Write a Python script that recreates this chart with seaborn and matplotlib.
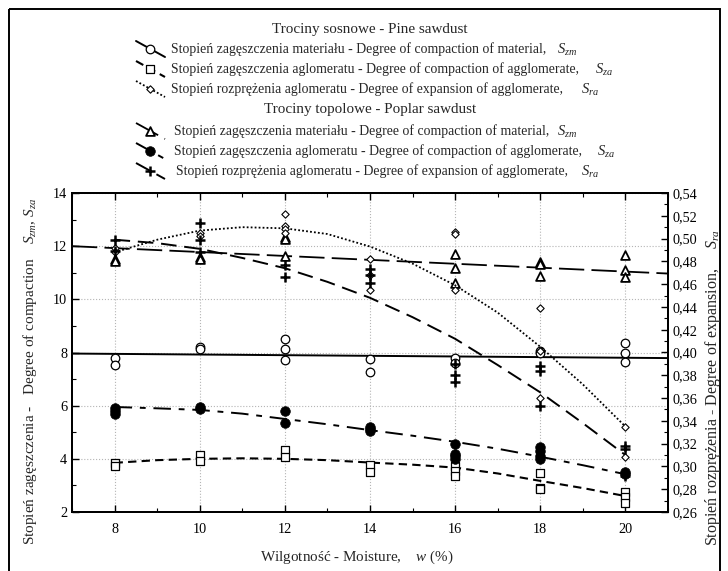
import numpy as np
import pandas as pd
import matplotlib
matplotlib.use('Agg')
import matplotlib.pyplot as plt
import seaborn as sns
from matplotlib.ticker import MultipleLocator, FuncFormatter
from matplotlib.lines import Line2D
from matplotlib.patches import Rectangle

# ---------------- data ----------------
# Pine sawdust - degree of compaction of material (left axis), open circles
pine_szm_x = [8, 8, 10, 10, 12, 12, 12, 14, 14, 16, 16, 18, 18, 20, 20, 20]
pine_szm_y = [7.78, 7.53, 8.19, 8.13, 8.50, 8.15, 7.72, 7.75, 7.27, 7.78, 7.60, 8.04, 7.98, 8.34, 7.97, 7.65]
# Pine sawdust - degree of compaction of agglomerate (left axis), open squares
pine_sza_x = [8, 8, 10, 10, 12, 12, 14, 14, 16, 16, 16, 18, 18, 18, 20, 20, 20]
pine_sza_y = [3.85, 3.72, 4.15, 3.90, 4.33, 4.08, 3.78, 3.52, 3.72, 3.55, 3.35, 3.48, 2.92, 2.85, 2.77, 2.55, 2.35]
# Pine sawdust - degree of expansion of agglomerate (right axis), small diamonds
pine_sra_x = [8, 8, 10, 10, 12, 12, 12, 12, 14, 14, 14, 16, 16, 16, 18, 18, 18, 20, 20]
pine_sra_y = [0.492, 0.488, 0.505, 0.502, 0.522, 0.511, 0.508, 0.505, 0.482, 0.468, 0.455,
              0.506, 0.504, 0.455, 0.439, 0.401, 0.360, 0.335, 0.308]
# Poplar sawdust - degree of compaction of material (left axis), triangles
pop_szm_x = [8, 8, 10, 10, 12, 12, 12, 16, 16, 16, 18, 18, 18, 20, 20, 20]
pop_szm_y = [11.50, 11.45, 11.58, 11.50, 12.33, 12.27, 11.64, 11.70, 11.16, 10.60,
             11.41, 11.32, 10.88, 11.66, 11.12, 10.83]
# Poplar sawdust - degree of compaction of agglomerate (left axis), filled circles
pop_sza_x = [8, 8, 8, 10, 10, 12, 12, 14, 14, 14, 16, 16, 16, 16, 18, 18, 18, 18, 20, 20]
pop_sza_y = [5.90, 5.80, 5.68, 5.95, 5.88, 5.81, 5.36, 5.20, 5.12, 5.05,
             4.55, 4.20, 4.10, 4.00, 4.45, 4.28, 4.12, 3.98, 3.50, 3.42]
# Poplar sawdust - degree of expansion of agglomerate (right axis), plus signs
pop_sra_x = [8, 8, 10, 10, 10, 12, 12, 14, 14, 14, 16, 16, 16, 18, 18, 18, 20, 20, 20]
pop_sra_y = [0.499, 0.489, 0.514, 0.499, 0.488, 0.477, 0.466, 0.473, 0.468, 0.461,
             0.390, 0.380, 0.374, 0.388, 0.384, 0.353, 0.318, 0.315, 0.292]

# fitted curves
fit_lin_x = [7, 21]
fit_pine_szm = [7.96, 7.79]
fit_pop_szm = [12.00, 10.97]
fit_x = [8, 9, 10, 11, 12, 13, 14, 15, 16, 17, 18, 19, 20]
fit_pine_sza = [3.85, 3.95, 4.00, 4.02, 4.00, 3.95, 3.86, 3.78, 3.67, 3.45, 3.17, 2.90, 2.60]
fit_pop_sza = [5.95, 5.90, 5.84, 5.70, 5.50, 5.30, 5.08, 4.87, 4.64, 4.38, 4.08, 3.76, 3.42]
fit_pine_sra = [0.488, 0.499, 0.507, 0.510, 0.509, 0.504, 0.493, 0.478, 0.459, 0.435, 0.405, 0.372, 0.335]
fit_pop_sra = [0.499, 0.496, 0.491, 0.483, 0.474, 0.462, 0.448, 0.431, 0.412, 0.389, 0.365, 0.338, 0.310]

x_ticks = [8, 10, 12, 14, 16, 18, 20]
left_ticks = [2, 4, 6, 8, 10, 12, 14]
right_ticks = [0.26, 0.28, 0.30, 0.32, 0.34, 0.36, 0.38, 0.40, 0.42, 0.44, 0.46, 0.48, 0.50, 0.52, 0.54]

# ---------------- style ----------------
sns.set_style('ticks')
plt.rcParams['font.family'] = ['Liberation Serif', 'DejaVu Serif']
plt.rcParams['mathtext.fontset'] = 'custom'
plt.rcParams['mathtext.rm'] = 'Liberation Serif'
plt.rcParams['mathtext.it'] = 'Liberation Serif:italic'
plt.rcParams['xtick.direction'] = 'in'
plt.rcParams['ytick.direction'] = 'in'

W, H = 728, 571
fig = plt.figure(figsize=(W / 100, H / 100), dpi=100)
fig.patch.set_facecolor('white')
ax = fig.add_axes([72 / W, 1 - 512 / H, (668 - 72) / W, (512 - 193) / H])
ax2 = ax.twinx()

K = 'black'
styles = {
    'pine_szm': dict(linestyle='-', lw=1.4),
    'pine_sza': dict(linestyle=(0, (4, 2.5)), lw=1.5),
    'pine_sra': dict(linestyle=(0, (1, 1.2)), lw=1.3),
    'pop_szm': dict(linestyle=(0, (14, 4)), lw=1.3),
    'pop_sza': dict(linestyle=(0, (9, 4, 3, 4)), lw=1.4),
    'pop_sra': dict(linestyle=(0, (8, 4)), lw=1.4),
}
marks = {
    'pine_szm': dict(marker='o', s=38, color='white', edgecolor=K, linewidth=0.9),
    'pine_sza': dict(marker='s', s=38, color='white', edgecolor=K, linewidth=0.9),
    'pine_sra': dict(marker='D', s=14, color='white', edgecolor=K, linewidth=0.8),
    'pop_szm': dict(marker='^', s=40, color='white', edgecolor=K, linewidth=1.3),
    'pop_sza': dict(marker='o', s=48, color=K, edgecolor=K, linewidth=0.5),
    'pop_sra': dict(marker='+', s=60, color=K, linewidth=1.8),
}

# fitted lines
sns.lineplot(x=fit_lin_x, y=fit_pine_szm, color=K, ax=ax, **styles['pine_szm'])
sns.lineplot(x=fit_lin_x, y=fit_pop_szm, color=K, ax=ax, **styles['pop_szm'])
sns.lineplot(x=fit_x, y=fit_pine_sza, color=K, ax=ax, **styles['pine_sza'])
sns.lineplot(x=fit_x, y=fit_pop_sza, color=K, ax=ax, **styles['pop_sza'])
sns.lineplot(x=fit_x, y=fit_pine_sra, color=K, ax=ax2, **styles['pine_sra'])
sns.lineplot(x=fit_x, y=fit_pop_sra, color=K, ax=ax2, **styles['pop_sra'])

# points
sns.scatterplot(x=pine_szm_x, y=pine_szm_y, ax=ax, zorder=5, **marks['pine_szm'])
sns.scatterplot(x=pine_sza_x, y=pine_sza_y, ax=ax, zorder=5, **marks['pine_sza'])
sns.scatterplot(x=pop_szm_x, y=pop_szm_y, ax=ax, zorder=5, **marks['pop_szm'])
sns.scatterplot(x=pop_sza_x, y=pop_sza_y, ax=ax, zorder=5, **marks['pop_sza'])
sns.scatterplot(x=pine_sra_x, y=pine_sra_y, ax=ax2, zorder=5, **marks['pine_sra'])
sns.scatterplot(x=pop_sra_x, y=pop_sra_y, ax=ax2, zorder=5, **marks['pop_sra'])

# axes
ax.set_xlim(7, 21)
ax.set_ylim(2, 14)
ax2.set_ylim(0.26, 0.54)
ax.set_xticks(x_ticks)
ax.set_yticks(left_ticks)
ax2.set_yticks(right_ticks)
ax.xaxis.set_minor_locator(MultipleLocator(1))
ax.yaxis.set_minor_locator(MultipleLocator(1))
ax2.yaxis.set_minor_locator(MultipleLocator(0.01))
ax2.yaxis.set_major_formatter(FuncFormatter(lambda v, p: f"{v:.2f}".replace('.', ',')))
ax.set_xlabel('')
ax.set_ylabel('')
ax2.set_ylabel('')
ax.grid(True, which='major', linestyle=':', color='#b5b5b5', lw=0.8)
ax2.grid(False)
ax.tick_params(which='both', top=True, right=False, direction='in', labelsize=10.3, colors=K)
ax.tick_params(which='major', length=5, width=1)
ax.tick_params(which='minor', length=3, width=0.8)
ax.tick_params(axis='x', pad=8)
ax2.tick_params(which='both', direction='in', labelsize=10.3, colors=K, left=False)
ax2.tick_params(which='major', length=5, width=1)
ax2.tick_params(which='minor', length=3, width=0.8)
for a in (ax, ax2):
    for sp in a.spines.values():
        sp.set_visible(True)
        sp.set_color(K)
        sp.set_linewidth(1.4)

# ---------------- overlay: legend, labels, frame ----------------
ov = fig.add_axes([0, 0, 1, 1], zorder=10)
ov.set_xlim(0, W)
ov.set_ylim(H, 0)
ov.axis('off')
ov.patch.set_alpha(0)

ov.add_patch(Rectangle((9, 9), 711, 600, fill=False, lw=1.4, edgecolor=K))

FS = 9.95
ov.text(370, 29, 'Trociny sosnowe - Pine sawdust', ha='center', va='center', fontsize=10.9)
ov.text(370, 110, 'Trociny topolowe - Poplar sawdust', ha='center', va='center', fontsize=10.9)

entries = [
    ('pine_szm', 49, 171, 'Stopień zagęszczenia materiału - Degree of compaction of material,', 557, r'$S_{zm}$'),
    ('pine_sza', 69, 171, 'Stopień zagęszczenia aglomeratu - Degree of compaction of agglomerate,', 595, r'$S_{za}$'),
    ('pine_sra', 89, 171, 'Stopień rozprężenia aglomeratu - Degree of expansion of agglomerate,', 581, r'$S_{ra}$'),
    ('pop_szm', 131, 174, 'Stopień zagęszczenia materiału - Degree of compaction of material,', 557, r'$S_{zm}$'),
    ('pop_sza', 151, 174, 'Stopień zagęszczenia aglomeratu - Degree of compaction of agglomerate,', 597, r'$S_{za}$'),
    ('pop_sra', 171, 176, 'Stopień rozprężenia aglomeratu - Degree of expansion of agglomerate,', 581, r'$S_{ra}$'),
]
for key, yrow, xt, label, xs, sym in entries:
    st = styles[key]
    ov.add_line(Line2D([136, 165], [yrow - 8, yrow + 8], color=K, lw=st['lw'], linestyle=st['linestyle']))
    mk = marks[key]
    ov.scatter([150], [yrow], marker=mk['marker'], s=mk['s'], c=mk['color'],
               edgecolors=K if mk['marker'] != '+' else None, linewidths=mk['linewidth'], zorder=5)
    ov.text(xt, yrow, label, ha='left', va='center', fontsize=FS)
    ov.text(xs, yrow + 1, sym, ha='left', va='center', fontsize=10.5)

ov.text(30, 371, 'Stopień zagęszczenia -   Degree of compaction    $S_{zm}$, $S_{za}$',
        rotation=90, ha='center', va='center', fontsize=11)
ov.text(713, 388, 'Stopień rozprężenia - Degree of expansion,     $S_{ra}$',
        rotation=90, ha='center', va='center', fontsize=11.5)
ov.text(357, 557, 'Wilgotność - Moisture,    $w$ (%)', ha='center', va='center', fontsize=10.9)

fig.savefig('out.png', dpi=100)
